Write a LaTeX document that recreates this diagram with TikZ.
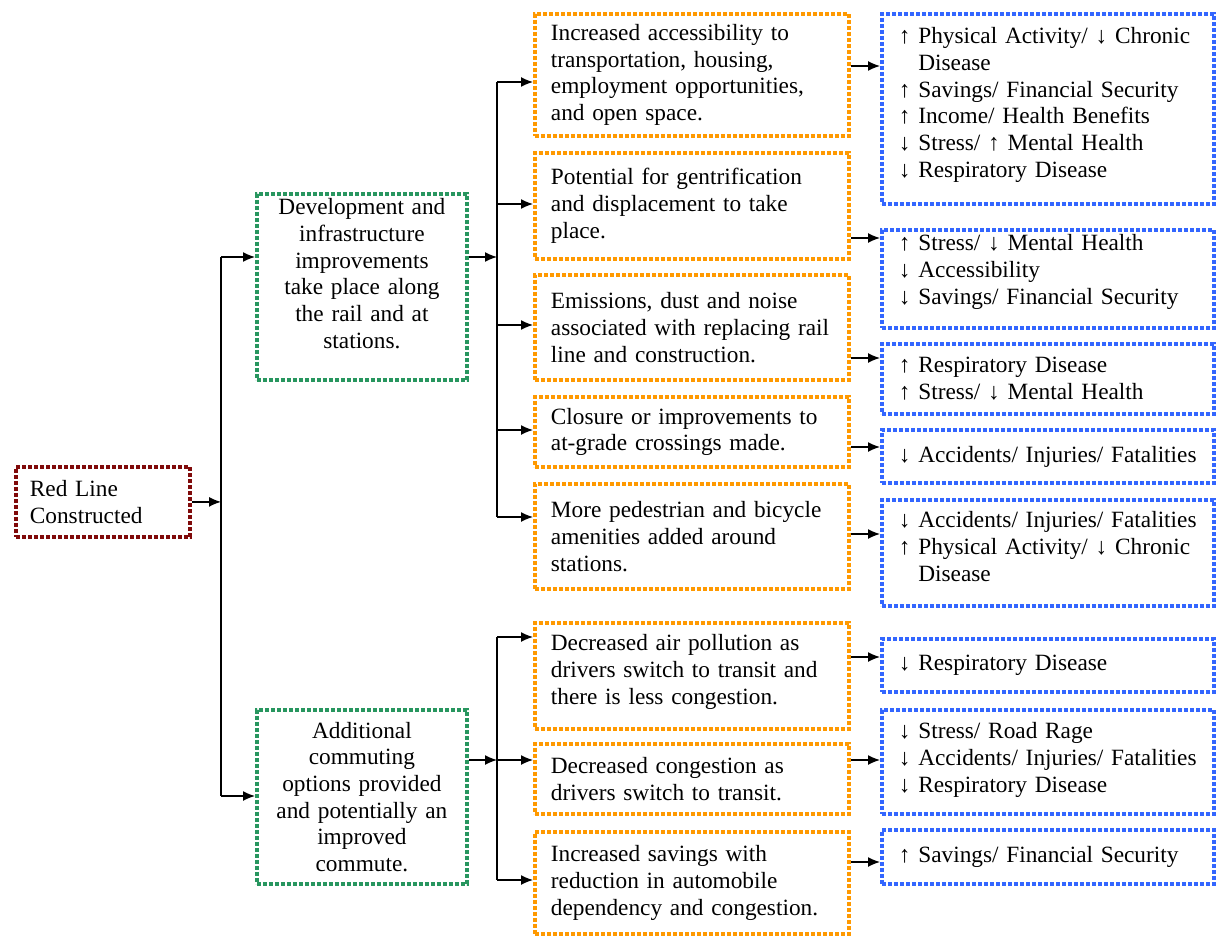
\documentclass[tikz,border=0pt]{standalone}
\usepackage{fontspec}
\setmainfont{Liberation Serif}
\usetikzlibrary{arrows.meta}
\definecolor{dred}{RGB}{128,10,10}
\definecolor{dgreen}{RGB}{40,150,95}
\definecolor{dorange}{RGB}{255,153,0}
\definecolor{dblue}{RGB}{51,102,255}
\tikzset{
  dbox/.style={draw=#1, line width=1.9pt, dash pattern=on 1.9pt off 1.1pt, anchor=north west,
    inner ysep=0pt, font=\fontsize{11.65pt}{13.35pt}\selectfont},
  redbox/.style={dbox=dred, minimum width=87pt, minimum height=35pt, inner xsep=7pt, text width=73pt, align=left},
  greenbox/.style={dbox=dgreen, minimum width=105pt, inner xsep=5pt, text width=95pt, align=center},
  orangebox/.style={dbox=dorange, minimum width=157pt, inner xsep=8pt, text width=141pt, align=left},
  bluebox/.style={dbox=dblue, minimum width=166pt, inner xsep=8.5pt, text width=149pt, align=left},
  arr/.style={draw=black, line width=0.7pt, -{Latex[length=6pt,width=5pt]}},
  ln/.style={draw=black, line width=0.7pt}
}
\newcommand{\ind}{\phantom{↑ }}
\newcommand{\dn}[1]{\rule[-#1]{0pt}{0pt}}
\begin{document}
\begin{tikzpicture}[x=0.5pt,y=-0.5pt]
\useasboundingbox (0,0) rectangle (1218,935);
% red
\node[redbox] (red) at (14,465) {Red Line\\Constructed};
% green
\node[greenbox, minimum height=93pt] (g1) at (255,192) {Development and\\infrastructure\\improvements\\take place along\\the rail and at\\stations.\dn{13.5pt}};
\node[greenbox, minimum height=87pt] (g2) at (255,708) {Additional\\commuting\\options provided\\and potentially an\\improved\\commute.};
% orange
\node[orangebox, minimum height=61pt] (o1) at (533,12) {Increased accessibility to\\transportation, housing,\\employment opportunities,\\and open space.};
\node[orangebox, minimum height=53pt] (o2) at (533,151) {Potential for gentrification\\and displacement to take\\place.};
\node[orangebox, minimum height=52.5pt] (o3) at (533,273) {Emissions, dust and noise\\associated with replacing rail\\line and construction.};
\node[orangebox, minimum height=35pt] (o4) at (533,395) {Closure or improvements to\\at-grade crossings made.};
\node[orangebox, minimum height=52.5pt] (o5) at (533,482) {More pedestrian and bicycle\\amenities added around\\stations.};
\node[orangebox, minimum height=53pt] (o6) at (533,621) {Decreased air pollution as\\drivers switch to transit and\\there is less congestion.\dn{6.5pt}};
\node[orangebox, minimum height=35pt] (o7) at (533,742) {Decreased congestion as\\drivers switch to transit.};
\node[orangebox, minimum height=51pt] (o8) at (533,830) {Increased savings with\\reduction in automobile\\dependency and congestion.};
% blue
\node[bluebox, minimum height=95pt] (b1) at (880,12) {↑ Physical Activity/ ↓ Chronic\\\ind Disease\\↑ Savings/ Financial Security\\↑ Income/ Health Benefits\\↓ Stress/ ↑ Mental Health\\↓ Respiratory Disease\dn{6.5pt}};
\node[bluebox, minimum height=49pt] (b2) at (880,228) {↑ Stress/ ↓ Mental Health\\↓ Accessibility\\↓ Savings/ Financial Security\dn{9.5pt}};
\node[bluebox, minimum height=35pt] (b3) at (880,342) {↑ Respiratory Disease\\↑ Stress/ ↓ Mental Health};
\node[bluebox, minimum height=26.5pt] (b4) at (880,428) {↓ Accidents/ Injuries/ Fatalities};
\node[bluebox, minimum height=53pt] (b5) at (880,498) {↓ Accidents/ Injuries/ Fatalities\\↑ Physical Activity/ ↓ Chronic\\\ind Disease\dn{6.5pt}};
\node[bluebox, minimum height=26.5pt] (b6) at (880,637) {↓ Respiratory Disease};
\node[bluebox, minimum height=52pt] (b7) at (880,708) {↓ Stress/ Road Rage\\↓ Accidents/ Injuries/ Fatalities\\↓ Respiratory Disease\dn{4.5pt}};
\node[bluebox, minimum height=27pt] (b8) at (880,828) {↑ Savings/ Financial Security};
% bus coordinates
\coordinate (a1) at (221,257);
\coordinate (a2) at (221,796);
\coordinate (bt) at (497,82);
\coordinate (bm) at (497,257);
\coordinate (bb) at (497,517);
\coordinate (ct) at (497,637);
\coordinate (cm) at (497,760);
\coordinate (cb) at (497,880);
% red to bus A
\draw[arr] (red.east) -- (red.east -| a1);
\draw[ln] (a1) -- (a2);
\draw[arr] (a1) -- (a1 -| g1.west);
\draw[arr] (a2) -- (a2 -| g2.west);
% green1 to bus B
\draw[arr] (bm -| g1.east) -- (bm);
\draw[ln] (bt) -- (bb);
\coordinate (y2) at (497,204);
\coordinate (y3) at (497,325);
\coordinate (y4) at (497,430);
\draw[arr] (bt) -- (bt -| o1.west);
\draw[arr] (y2) -- (y2 -| o2.west);
\draw[arr] (y3) -- (y3 -| o3.west);
\draw[arr] (y4) -- (y4 -| o4.west);
\draw[arr] (bb) -- (bb -| o5.west);
% green2 to bus C
\draw[arr] (cm -| g2.east) -- (cm);
\draw[ln] (ct) -- (cb);
\draw[arr] (ct) -- (ct -| o6.west);
\draw[arr] (cm) -- (cm -| o7.west);
\draw[arr] (cb) -- (cb -| o8.west);
% orange to blue
\coordinate (z1) at (0,66);
\coordinate (z2) at (0,238);
\coordinate (z3) at (0,358);
\coordinate (z4) at (0,447);
\coordinate (z5) at (0,534);
\coordinate (z6) at (0,657);
\coordinate (z7) at (0,760);
\coordinate (z8) at (0,862);
\draw[arr] (o1.east |- z1) -- (b1.west |- z1);
\draw[arr] (o2.east |- z2) -- (b2.west |- z2);
\draw[arr] (o3.east |- z3) -- (b3.west |- z3);
\draw[arr] (o4.east |- z4) -- (b4.west |- z4);
\draw[arr] (o5.east |- z5) -- (b5.west |- z5);
\draw[arr] (o6.east |- z6) -- (b6.west |- z6);
\draw[arr] (o7.east |- z7) -- (b7.west |- z7);
\draw[arr] (o8.east |- z8) -- (b8.west |- z8);
\end{tikzpicture}
\end{document}
